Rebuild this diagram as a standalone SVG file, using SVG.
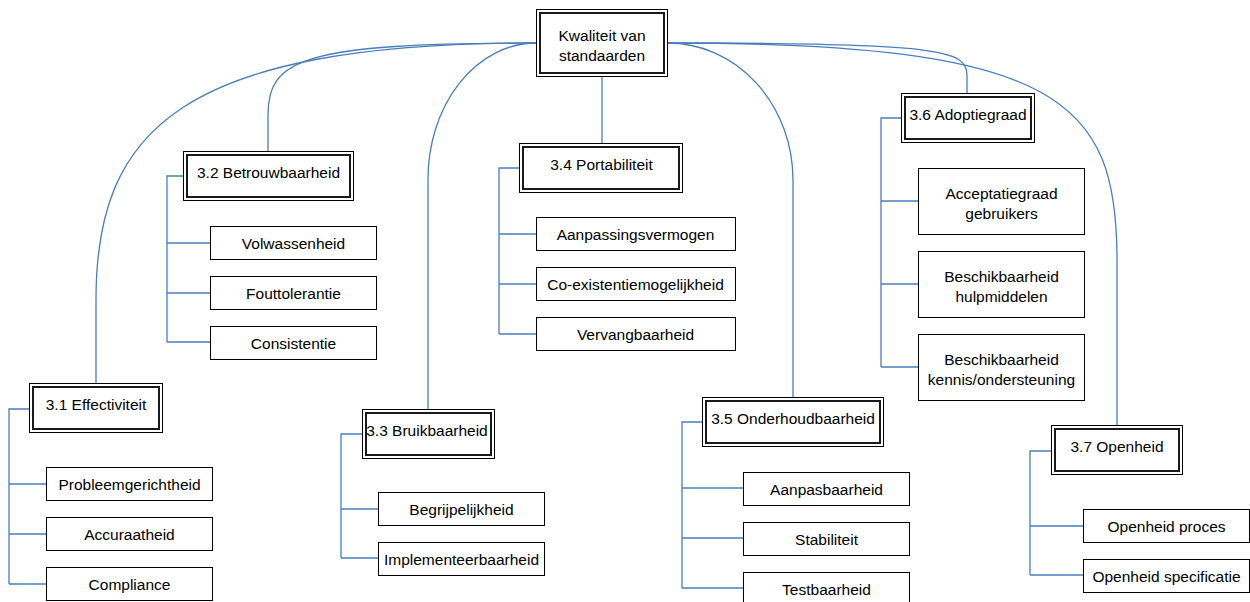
<svg xmlns="http://www.w3.org/2000/svg" width="1250" height="602" viewBox="0 0 1250 602">
<style>
  text { font-family: "Liberation Sans", Arial, sans-serif; font-size: 15.5px; fill: #000; text-anchor: middle; }
  .o { fill: #fff; stroke: #000; stroke-width: 1; }
  .i { fill: none; stroke: #1a1a1a; stroke-width: 2; }
  .c { fill: #fff; stroke: #000; stroke-width: 1; }
  .ln { fill: none; stroke: #4a7ebb; stroke-width: 1.3; }
</style>
<rect width="1250" height="602" fill="#fff"/>
<g id="connectors">
  <path class="ln" d="M536,43 C180,43 96,130 96,300 L96,383"/>
  <path class="ln" d="M536,43 C300,43 268,60 268,115 L268,151"/>
  <path class="ln" d="M536,43 A108,136 0 0 0 428,179 L428,409"/>
  <path class="ln" d="M602,76 L602,143"/>
  <path class="ln" d="M668,43 A125,137 0 0 1 793,180 L793,397"/>
  <path class="ln" d="M668,43 C940,43 967,50 967,75 L967,93"/>
  <path class="ln" d="M668,43 C1060,43 1117,100 1117,260 L1117,425"/>
  <path class="ln" d="M29,409 H9 V584 M9,484 H46 M9,534 H46 M9,584 H46"/>
  <path class="ln" d="M183,176 H167 V342 M167,243 H210 M167,293 H210 M167,342 H210"/>
  <path class="ln" d="M362,434 H341 V558 M341,509 H378 M341,558 H378"/>
  <path class="ln" d="M519,168 H499 V334 M499,234 H536 M499,284 H536 M499,334 H536"/>
  <path class="ln" d="M702,422 H682 V588 M682,488 H743 M682,538 H743 M682,588 H743"/>
  <path class="ln" d="M901,118 H881 V367 M881,201 H918 M881,284 H918 M881,367 H918"/>
  <path class="ln" d="M1051,451 H1030 V575 M1030,526 H1083 M1030,575 H1083"/>
</g>
<g id="root">
  <rect class="o" x="536.5" y="9.5" width="131" height="67"/>
  <rect class="i" x="540" y="13" width="124" height="60"/>
  <text x="602" y="40.5">Kwaliteit van</text>
  <text x="602" y="60.5">standaarden</text>
</g>
<g id="n31">
  <rect class="o" x="29.5" y="383.5" width="133" height="49"/>
  <rect class="i" x="33" y="387" width="126" height="42"/>
  <text x="96" y="410">3.1 Effectiviteit</text>
</g>
<g id="n31a"><rect class="c" x="46.5" y="467.5" width="166" height="33"/><text x="129.5" y="489.5">Probleemgerichtheid</text></g>
<g id="n31b"><rect class="c" x="46.5" y="517.5" width="166" height="33"/><text x="129.5" y="539.5">Accuraatheid</text></g>
<g id="n31c"><rect class="c" x="46.5" y="567.5" width="166" height="33"/><text x="129.5" y="589.5">Compliance</text></g>
<g id="n32">
  <rect class="o" x="183.5" y="151.5" width="170" height="49"/>
  <rect class="i" x="187" y="155" width="163" height="42"/>
  <text x="268.5" y="178">3.2 Betrouwbaarheid</text>
</g>
<g id="n32a"><rect class="c" x="210.5" y="226.5" width="166" height="33"/><text x="293.5" y="248.5">Volwassenheid</text></g>
<g id="n32b"><rect class="c" x="210.5" y="276.5" width="166" height="33"/><text x="293.5" y="298.5">Fouttolerantie</text></g>
<g id="n32c"><rect class="c" x="210.5" y="326.5" width="166" height="33"/><text x="293.5" y="348.5">Consistentie</text></g>
<g id="n33">
  <rect class="o" x="362.5" y="409.5" width="132" height="49"/>
  <rect class="i" x="366" y="413" width="125" height="42"/>
  <text x="427" y="436">3.3 Bruikbaarheid</text>
</g>
<g id="n33a"><rect class="c" x="378.5" y="492.5" width="166" height="33"/><text x="461.5" y="514.5">Begrijpelijkheid</text></g>
<g id="n33b"><rect class="c" x="378.5" y="542.5" width="166" height="33"/><text x="461.5" y="564.5">Implementeerbaarheid</text></g>
<g id="n34">
  <rect class="o" x="519.5" y="143.5" width="163" height="49"/>
  <rect class="i" x="523" y="147" width="156" height="42"/>
  <text x="601.5" y="170">3.4 Portabiliteit</text>
</g>
<g id="n34a"><rect class="c" x="536.5" y="217.5" width="199" height="33"/><text x="635.5" y="239.5">Aanpassingsvermogen</text></g>
<g id="n34b"><rect class="c" x="536.5" y="267.5" width="199" height="33"/><text x="635.5" y="289.5">Co-existentiemogelijkheid</text></g>
<g id="n34c"><rect class="c" x="536.5" y="317.5" width="199" height="33"/><text x="635.5" y="339.5">Vervangbaarheid</text></g>
<g id="n35">
  <rect class="o" x="702.5" y="397.5" width="181" height="49"/>
  <rect class="i" x="706" y="401" width="174" height="42"/>
  <text x="793" y="424">3.5 Onderhoudbaarheid</text>
</g>
<g id="n35a"><rect class="c" x="743.5" y="472.5" width="166" height="33"/><text x="826.5" y="494.5">Aanpasbaarheid</text></g>
<g id="n35b"><rect class="c" x="743.5" y="522.5" width="166" height="33"/><text x="826.5" y="544.5">Stabiliteit</text></g>
<g id="n35c"><rect class="c" x="743.5" y="572.5" width="166" height="33"/><text x="826.5" y="594.5">Testbaarheid</text></g>
<g id="n36">
  <rect class="o" x="901.5" y="93.5" width="133" height="49"/>
  <rect class="i" x="905" y="97" width="126" height="42"/>
  <text x="968" y="120">3.6 Adoptiegraad</text>
</g>
<g id="n36a"><rect class="c" x="918.5" y="168.5" width="166" height="66"/><text x="1001.5" y="199">Acceptatiegraad</text><text x="1001.5" y="218.5">gebruikers</text></g>
<g id="n36b"><rect class="c" x="918.5" y="251.5" width="166" height="66"/><text x="1001.5" y="282">Beschikbaarheid</text><text x="1001.5" y="301.5">hulpmiddelen</text></g>
<g id="n36c"><rect class="c" x="918.5" y="334.5" width="166" height="66"/><text x="1001.5" y="365">Beschikbaarheid</text><text x="1001.5" y="384.5">kennis/ondersteuning</text></g>
<g id="n37">
  <rect class="o" x="1051.5" y="425.5" width="131" height="49"/>
  <rect class="i" x="1055" y="429" width="124" height="42"/>
  <text x="1117" y="452">3.7 Openheid</text>
</g>
<g id="n37a"><rect class="c" x="1083.5" y="509.5" width="166" height="33"/><text x="1166.5" y="531.5">Openheid proces</text></g>
<g id="n37b"><rect class="c" x="1083.5" y="559.5" width="166" height="33"/><text x="1166.5" y="581.5">Openheid specificatie</text></g>
</svg>
